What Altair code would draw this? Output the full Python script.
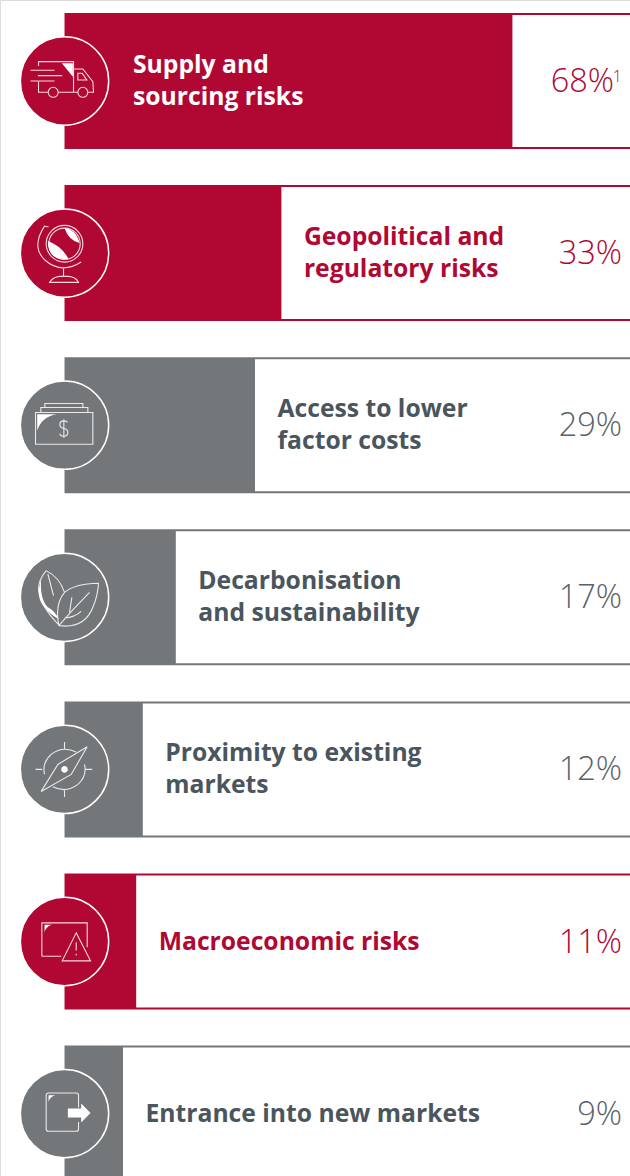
import re
import altair as alt
import pandas as pd

labels = [
    "Supply and\nsourcing risks",
    "Geopolitical and\nregulatory risks",
    "Access to lower\nfactor costs",
    "Decarbonisation\nand sustainability",
    "Proximity to existing\nmarkets",
    "Macroeconomic risks",
    "Entrance into new markets",
]
values = [68, 33, 29, 17, 12, 11, 9]
groups = ["red", "red", "grey", "grey", "grey", "red", "grey"]

RED = "#B00833"
GREY = "#73777A"
GREY_TEXT = "#4A555D"
GREY_NUM = "#596269"
FONT = "Open Sans"


def norm(path):
    # Icons are drawn on a grid of +/-132 units; symbols expect +/-1.
    return re.sub(r"-?\d+(?:\.\d+)?", lambda m: f"{float(m.group()) / 132:.4f}", path)


def ring(cx, cy, r):
    k = round(r * 0.5523, 2)
    return (
        f"M{cx - r},{cy} "
        f"C{cx - r},{cy + k} {cx - k},{cy + r} {cx},{cy + r} "
        f"C{cx + k},{cy + r} {cx + r},{cy + k} {cx + r},{cy} "
        f"C{cx + r},{cy - k} {cx + k},{cy - r} {cx},{cy - r} "
        f"C{cx - k},{cy - r} {cx - r},{cy - k} {cx - r},{cy} Z "
    )


icon_lines = [
    "M-78,2 V34 H-49 M-19,34 H40 M-78,-45 V-58 H27 V34 M27,-36 H55 L85,2 L87,34 H70 "
    "M40,-23 V-3 H67 L53,-23 Z M-102,-32 H-30 M-80,-16 H-7 M-102,0 H-30 "
    + ring(-34, 34, 15) + ring(55, 34, 15),
    ring(0, -28, 55) + ring(0, -28, 47)
    + "M-48,-78 L-60,-81 Q-100,-20 -60,20 Q-10,65 50,27 M-3,47 V70 "
    "M-45,88 H42 Q35,72 12,70 H-15 Q-35,72 -45,88 Z",
    "M-87,-38 H85 V57 H-87 Z M-71,-38 V-53 H70 V-38 M-59,-53 V-65 H55 V-53 "
    "M8,-8 Q8,-13 -2,-13 Q-14,-13 -14,-2 Q-14,8 -2,10 Q10,12 10,22 Q10,33 -2,33 Q-14,33 -14,25 "
    "M-2,-18 V38",
    "M-55,-80 Q-80,-50 -78,-20 Q-70,30 -15,85 M-55,-80 Q-15,-60 0,-15 M-50,-70 L-33,-5 "
    "M102,-42 Q30,-40 0,-15 Q-30,20 -17,85 Q60,95 85,30 Q100,-5 102,-42 Z "
    "M-17,85 Q30,30 75,-15 M15,45 L22,0 M0,62 Q30,60 50,42",
    "M0,-82 V-62 M-87,0 H-67 M63,0 H83 M0,63 V83 "
    "M35,-52 Q-5,-72 -40,-45 Q-68,-20 -60,15 M-35,52 Q5,72 40,45 Q68,20 60,-15 "
    "M68,-68 L20,15 L-70,66 L-20,-15 Z",
    "M-68,44 V-56 H68 V17 M-68,44 H-10 M35,-26 L78,58 H-7 Z M35,2 V27 M35,37 V42",
    "M42,-18 V-55 Q42,-62 35,-62 H-48 Q-55,-62 -55,-55 V46 Q-55,53 -48,53 H35 Q42,53 42,46 V25",
]
icon_fills = [
    "M-8,-53 H25 V-13 Z",
    "M-50,-36 Q-50,25 12,17 Q-10,-22 -50,-36 Z M0,-75 Q35,-70 45,-30 Q12,-38 0,-75 Z",
    "M-82,-33 H-23 Q-70,-25 -82,17 Z",
    "M-70,-55 Q-88,0 -60,30 Q-40,55 -17,65 Q-30,40 -50,30 Q-75,5 -70,-55 Z",
    ring(0, 0, 10),
    "M-60,-50 H-38 Q-55,-45 -60,-28 Z",
    "M10,-15 H50 V-30 L78,-2 L50,27 V12 H10 Z M-48,-55 H-28 Q-44,-50 -48,-35 Z",
]

data = pd.DataFrame(
    {
        "label": labels,
        "value": values,
        "group": groups,
        "pct": [f"{v}%" for v in values],
        "line_path": [norm(p) for p in icon_lines],
        "fill_path": [norm(p) for p in icon_fills],
    }
)

x_scale = alt.Scale(domain=[-9.636, 85.818], zero=False, nice=False)
y_scale = alt.Scale(domain=labels, range=[13, 1181.6], paddingInner=0.21, paddingOuter=0)
colour = alt.Color(
    "group:N", scale=alt.Scale(domain=["red", "grey"], range=[RED, GREY]), legend=None
)
x_enc = alt.X("value:Q", scale=x_scale, axis=None)
y_enc = alt.Y("label:N", scale=y_scale, sort=labels, axis=None)

base = alt.Chart(data).transform_calculate(start="0.14", end="85.818")

# Full-width band in the row colour, hollowed out past the value.
band = base.mark_bar(size=136, clip=True).encode(
    x=alt.X("start:Q", scale=x_scale, axis=None), x2="end:Q", y=y_enc, color=colour
)
hollow = base.mark_bar(size=132, clip=True, color="white").encode(
    x=x_enc, x2="end:Q", y=y_enc
)

label_style = dict(
    align="left", baseline="middle", lineBreak="\n", lineHeight=32,
    font=FONT, fontSize=24.7, fontWeight=700,
)
label_colour = alt.Color(
    "group:N", scale=alt.Scale(domain=["red", "grey"], range=[RED, GREY_TEXT]), legend=None
)

# Vega centres the first line on the anchor, so two-line labels are lifted by half a line.
inside = (
    base.transform_filter("datum.value >= 50")
    .mark_text(color="white", dx=68.5, dy=-15, **label_style)
    .encode(x=alt.X("start:Q", scale=x_scale, axis=None), y=y_enc, text="label:N")
)
outside_two = (
    base.transform_filter("datum.value < 50 && indexof(datum.label, '\\n') >= 0")
    .mark_text(dx=22.5, dy=-15, **label_style)
    .encode(x=x_enc, y=y_enc, text="label:N", color=label_colour)
)
outside_one = (
    base.transform_filter("datum.value < 50 && indexof(datum.label, '\\n') < 0")
    .mark_text(dx=22.5, dy=1, **label_style)
    .encode(x=x_enc, y=y_enc, text="label:N", color=label_colour)
)

pct_colour = alt.Color(
    "group:N", scale=alt.Scale(domain=["red", "grey"], range=[RED, GREY_NUM]), legend=None
)
pct_style = dict(align="right", baseline="middle", font=FONT, fontSize=32.5, fontWeight=300, dy=1)
pct_plain = (
    base.transform_filter("datum.value < 50")
    .mark_text(**pct_style)
    .encode(x=alt.value(622), y=y_enc, text="pct:N", color=pct_colour)
)
pct_note = (
    base.transform_filter("datum.value >= 50")
    .mark_text(**pct_style)
    .encode(x=alt.value(614), y=y_enc, text="pct:N", color=pct_colour)
)
footnote = (
    base.transform_filter("datum.value >= 50")
    .transform_calculate(note="'1'")
    .mark_text(align="right", baseline="middle", font=FONT, fontSize=16, fontWeight=300, dy=-4)
    .encode(x=alt.value(622), y=y_enc, text="note:N", color=pct_colour)
)

zero_x = alt.X("start:Q", scale=x_scale, axis=None)
disc = base.mark_point(
    shape="circle", size=7800, filled=True, opacity=1, stroke="white", strokeWidth=1.5, clip=True
).encode(
    x=zero_x,
    y=y_enc,
    fill=alt.Fill("group:N", scale=alt.Scale(domain=["red", "grey"], range=[RED, GREY]), legend=None),
)
glyph_lines = base.mark_point(
    size=7744, filled=False, opacity=0.85, color="white", strokeWidth=1.1
).encode(x=zero_x, y=y_enc, shape=alt.Shape("line_path:N", scale=None))
glyph_fills = base.mark_point(
    size=7744, filled=True, opacity=1, color="white", strokeWidth=0
).encode(x=zero_x, y=y_enc, shape=alt.Shape("fill_path:N", scale=None))

chart = (
    alt.layer(
        band, hollow, inside, outside_two, outside_one,
        pct_plain, pct_note, footnote, disc, glyph_lines, glyph_fills,
    )
    .resolve_scale(color="independent")
    .properties(
        width=630,
        height=1176,
        padding=0,
        autosize=alt.AutoSizeParams(type="fit", contains="padding"),
    )
    .configure_view(stroke=None)
    .configure(background="white")
)

chart.save("out.html", embed_options={"renderer": "svg", "actions": False})
